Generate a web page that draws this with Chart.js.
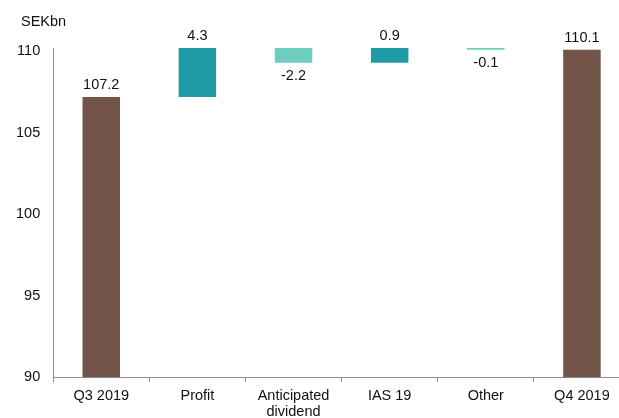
<!DOCTYPE html>
<html>
<head>
<meta charset="utf-8">
<script src="https://cdn.jsdelivr.net/npm/chart.js@4"></script>
<style>
  html, body { margin: 0; padding: 0; background: #fff; overflow: hidden; }
  #wrap { width: 619px; height: 418px; overflow: hidden; }
</style>
</head>
<body>
<div id="wrap"><canvas id="chart" width="630" height="426"></canvas></div>
<script>
const categories = ['Q3 2019', 'Profit', ['Anticipated', 'dividend'], 'IAS 19', 'Other', 'Q4 2019'];
const changes = [107.2, 4.3, -2.2, 0.9, -0.1, 110.1];
const isTotal = [true, false, false, false, false, true];
const yTicks = [90, 95, 100, 105, 110];
const unitLabel = 'SEKbn';

const BROWN = '#725548';
const TEAL = '#1f9ba6';
const LIGHT_TEAL = '#6ecdbf';
const TEXT = '#111111';
const AXIS = '#8c8c8c';
const FONT = '"Liberation Sans", Arial, sans-serif';
const FONT_SIZE = 14.5;

// build floating bars from the running total
let running = 0;
const floating = changes.map((v, i) => {
  if (isTotal[i]) {
    running = v;
    return [0, v];
  }
  const start = running;
  running = Math.round((running + v) * 10) / 10;
  return [start, running];
});
const barColors = changes.map((v, i) => isTotal[i] ? BROWN : (v >= 0 ? TEAL : LIGHT_TEAL));

const labelPlugin = {
  id: 'waterfallLabels',
  afterDatasetsDraw(chart) {
    const ctx = chart.ctx;
    const area = chart.chartArea;
    const meta = chart.getDatasetMeta(0);
    ctx.save();
    ctx.font = FONT_SIZE + 'px ' + FONT;
    ctx.fillStyle = TEXT;
    ctx.textAlign = 'center';
    ctx.textBaseline = 'middle';
    meta.data.forEach((el, i) => {
      const top = Math.max(Math.min(el.y, el.base), area.top);
      const bottom = Math.min(Math.max(el.y, el.base), area.bottom);
      const text = changes[i].toFixed(1);
      if (changes[i] >= 0) {
        ctx.fillText(text, el.x, top - 12);
      } else {
        ctx.fillText(text, el.x, Math.max(bottom, area.top + 2) + 13);
      }
    });
    ctx.textAlign = 'left';
    ctx.fillText(unitLabel, 21, 22);
    ctx.restore();
  }
};

new Chart(document.getElementById('chart').getContext('2d'), {
  type: 'bar',
  data: {
    labels: categories,
    datasets: [{
      data: floating,
      backgroundColor: barColors,
      borderWidth: 0,
      categoryPercentage: 1,
      barPercentage: 0.39
    }]
  },
  options: {
    responsive: false,
    animation: false,
    layout: { padding: { top: 48, left: 3, right: 0, bottom: 0 } },
    plugins: {
      legend: { display: false },
      tooltip: { enabled: false }
    },
    scales: {
      x: {
        grid: {
          display: true,
          drawOnChartArea: false,
          drawTicks: true,
          tickLength: 5,
          color: AXIS,
          offset: true
        },
        border: { display: true, color: AXIS, width: 1 },
        ticks: {
          color: TEXT,
          font: { family: FONT, size: FONT_SIZE, lineHeight: 1.1 },
          padding: 6,
          maxRotation: 0,
          autoSkip: false
        }
      },
      y: {
        min: 90,
        max: 110.2,
        afterBuildTicks(scale) {
          scale.ticks = yTicks.map(v => ({ value: v }));
        },
        grid: { display: false, drawTicks: false },
        border: { display: true, color: AXIS, width: 1 },
        ticks: {
          color: TEXT,
          font: { family: FONT, size: FONT_SIZE },
          padding: 13
        }
      }
    }
  },
  plugins: [labelPlugin]
});
</script>
</body>
</html>
